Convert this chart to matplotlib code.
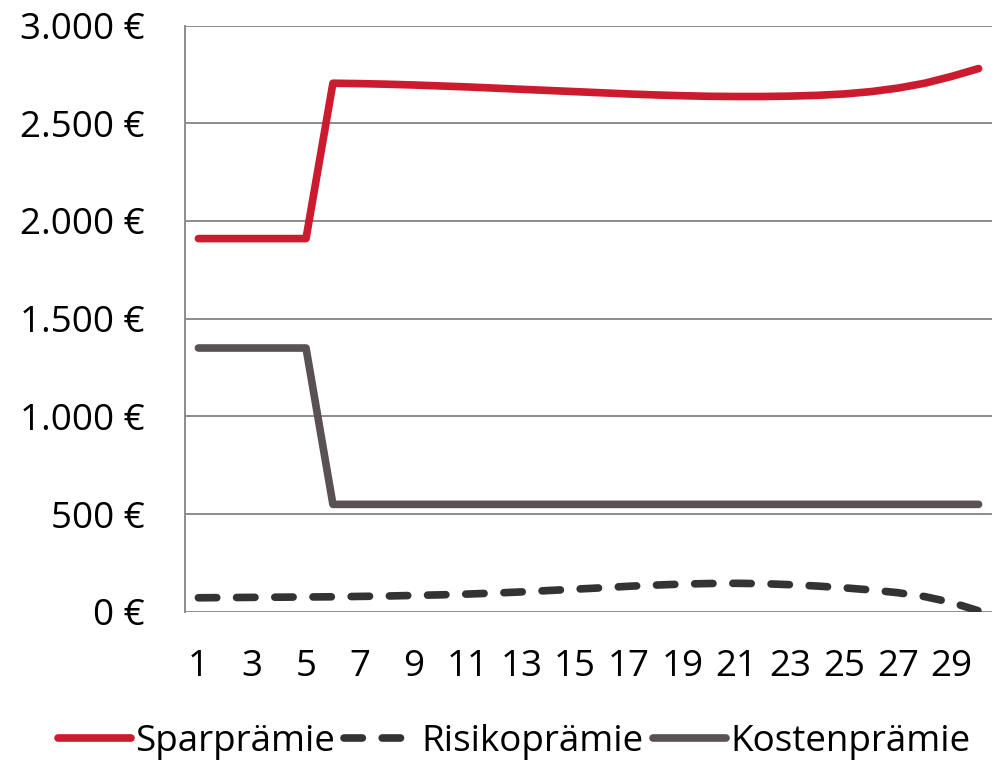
import matplotlib
matplotlib.use("Agg")
import matplotlib.pyplot as plt
from matplotlib.ticker import FuncFormatter

plt.rcParams['font.family'] = ['Open Sans', 'DejaVu Sans']

years = list(range(1, 31))
spar = [1910, 1910, 1910, 1910, 1910,
        2705, 2703, 2700, 2696, 2691, 2686, 2680, 2674, 2668, 2662,
        2656, 2650, 2645, 2641, 2638, 2637, 2637, 2639, 2643, 2650,
        2662, 2680, 2705, 2740, 2780]
risiko = [72, 73, 74, 75, 76, 77, 79, 81, 84, 87, 91, 96, 102, 109, 116,
          123, 131, 137, 142, 145, 146, 144, 139, 132, 123, 112, 98, 78, 48, 5]
kosten = [1350, 1350, 1350, 1350, 1350] + [550] * 25
series_names = ["Sparprämie", "Risikoprämie", "Kostenprämie"]
y_ticks = [0, 500, 1000, 1500, 2000, 2500, 3000]

fig = plt.figure(figsize=(9.96, 7.61), dpi=100)
ax = fig.add_axes([0.1857, 0.196, 0.8103, 0.7704])

lw = 5.5
ax.plot(years, spar, color="#CC1A2E", lw=lw, solid_capstyle="round",
        solid_joinstyle="round", label=series_names[0], zorder=3)
ax.plot(years, risiko, color="#333333", lw=lw, dashes=(2.4, 2.6),
        dash_capstyle="round", dash_joinstyle="round", label=series_names[1], zorder=3)
ax.plot(years, kosten, color="#595154", lw=lw, solid_capstyle="round",
        solid_joinstyle="round", label=series_names[2], zorder=3)

fs = 26.5
ax.set_xlim(0.5, 30.5)
ax.set_ylim(0, 3000)
ax.set_yticks(y_ticks)
ax.yaxis.set_major_formatter(FuncFormatter(lambda v, p: f"{int(v):,} €".replace(",", ".")))
ax.set_xticks(list(range(1, 31, 2)))
ax.tick_params(axis="both", length=0, labelsize=fs, colors="#000000")
ax.tick_params(axis="y", pad=29)
ax.tick_params(axis="x", pad=27)

ax.grid(axis="y", color="#8C8C8C", lw=1.4)
ax.set_axisbelow(True)
for s in ["top", "right", "bottom"]:
    ax.spines[s].set_visible(False)
ax.spines["left"].set_color("#8C8C8C")
ax.spines["left"].set_linewidth(1.4)

leg = fig.legend(loc="center", bbox_to_anchor=(0.516, 0.025), ncol=3, frameon=False,
                 fontsize=fs, handlelength=2.0, handletextpad=0.1,
                 columnspacing=0.25, borderaxespad=0)

fig.savefig("out.png", dpi=100)
